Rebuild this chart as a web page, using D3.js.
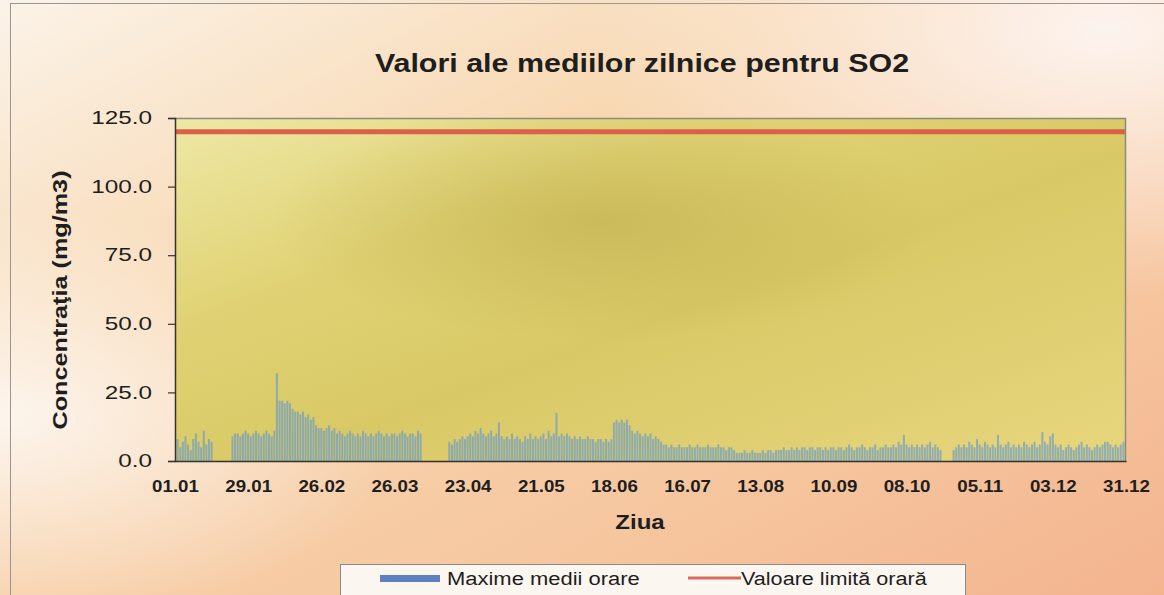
<!DOCTYPE html>
<html>
<head>
<meta charset="utf-8">
<script src="https://cdn.jsdelivr.net/npm/d3@7"></script>
<style>
  body { margin: 0; padding: 0; background: #fff; }
  svg text { font-family: "Liberation Sans", Arial, sans-serif; fill: #1e1e1e; }
</style>
</head>
<body>
<script>
'use strict';

// tick labels on the day axis (every 28 days)
const tickDays = [0, 28, 56, 84, 112, 140, 168, 196, 224, 252, 280, 308, 336, 364];
const tickLabels = ["01.01", "29.01", "26.02", "26.03", "23.04", "21.05", "18.06",
                    "16.07", "13.08", "10.09", "08.10", "05.11", "03.12", "31.12"];
const yTicks = [0, 25, 50, 75, 100, 125];

// daily max of hourly means, one value per day (null = no data)
const so2Daily = [
  6, 8, 5, 7, 9, 6, 4, 8, 10, 7, 5, 11, 6, 8, 7, null, null, null, null, null, null, null, 9, 10, 10, 9, 10, 11,
  10, 9, 10, 11, 10, 9, 10, 11, 10, 9, 11, 32, 22, 22, 21, 22, 21, 19, 18, 18, 17, 18, 16, 17, 15, 16, 13, 12,
  12, 11, 12, 13, 11, 12, 10, 11, 10, 9, 10, 11, 10, 9, 10, 9, 11, 10, 9, 10, 9, 10, 11, 10, 9, 10, 9, 10,
  10, 9, 10, 11, 10, 9, 10, 10, 9, 11, 10, null, null, null, null, null, null, null, null, null, null, 7, 6, 8, 7, 8, 9, 8,
  9, 10, 9, 11, 10, 12, 10, 9, 10, 11, 9, 10, 14, 9, 8, 9, 8, 10, 8, 9, 8, 7, 9, 8, 10, 8, 9, 8,
  9, 10, 8, 11, 9, 10, 17.5, 9, 10, 9, 10, 9, 8, 9, 8, 9, 8, 8, 9, 8, 8, 7, 8, 8, 7, 8, 7, 8,
  14, 15, 14, 15, 14, 15, 13, 11, 10, 11, 10, 9, 10, 9, 10, 8, 9, 8, 7, 6, 6, 5, 6, 5, 5, 6, 5, 5,
  5, 6, 5, 5, 6, 5, 5, 5, 6, 5, 5, 5, 6, 5, 5, 4, 5, 5, 4, 3, 3, 3, 4, 3, 3, 4, 3, 3,
  3, 4, 3, 4, 4, 3, 4, 4, 4, 5, 4, 4, 5, 4, 5, 4, 5, 5, 4, 5, 5, 4, 5, 5, 4, 5, 4, 5,
  5, 4, 5, 5, 4, 5, 6, 5, 4, 5, 5, 6, 5, 4, 5, 5, 6, 4, 5, 5, 6, 5, 5, 6, 5, 7, 6, 9.5,
  6, 5, 6, 5, 6, 5, 6, 5, 6, 7, 5, 6, 5, 4, null, null, null, null, 4, 5, 6, 5, 6, 5, 7, 6, 5, 8,
  6, 5, 7, 6, 5, 6, 5, 9.5, 6, 5, 6, 7, 5, 6, 5, 6, 5, 7, 6, 5, 6, 7, 5, 6, 10.5, 7, 6, 9,
  10, 6, 5, 6, 4, 5, 6, 5, 4, 5, 6, 7, 5, 6, 5, 4, 5, 6, 5, 6, 7, 7, 6, 5, 6, 5, 6, 7, 6
];

const limitValue = 120; // valoare limita orara

const seriesNames = ["Maxime medii orare", "Valoare limită orară"];

(function() {
  const width = 1164, height = 595;
  const left = 175, right = 1126, top = 118, bottom = 461;

  let svg = d3.select('body').append('svg')
    .attr('width', width)
    .attr('height', height);

  // the scanned chart is stretched sideways, widen text the same way
  function stretch(sel, k) {
    sel.each(function() {
      let len = this.getComputedTextLength();
      d3.select(this)
        .attr('textLength', len * k)
        .attr('lengthAdjust', 'spacingAndGlyphs');
    });
  }

  let defs = svg.append('defs');

  // page background gradients
  let bgLin = defs.append('linearGradient').attr('id', 'bgLin')
    .attr('x1', 0).attr('y1', 0).attr('x2', 1).attr('y2', 1);
  bgLin.append('stop').attr('offset', '0%').attr('stop-color', '#fbf3e8');
  bgLin.append('stop').attr('offset', '35%').attr('stop-color', '#f8d8b2');
  bgLin.append('stop').attr('offset', '70%').attr('stop-color', '#f6c7a0');
  bgLin.append('stop').attr('offset', '100%').attr('stop-color', '#f3b48e');

  let bgWhite = defs.append('radialGradient').attr('id', 'bgWhite')
    .attr('cx', 0.95).attr('cy', 0.05).attr('r', 0.45);
  bgWhite.append('stop').attr('offset', '0%').attr('stop-color', '#fdf5f2').attr('stop-opacity', 0.95);
  bgWhite.append('stop').attr('offset', '100%').attr('stop-color', '#fdf5f2').attr('stop-opacity', 0);

  let bgWhite2 = defs.append('radialGradient').attr('id', 'bgWhite2')
    .attr('cx', 0.0).attr('cy', 0.7).attr('r', 0.35);
  bgWhite2.append('stop').attr('offset', '0%').attr('stop-color', '#fdf8f4').attr('stop-opacity', 0.9);
  bgWhite2.append('stop').attr('offset', '100%').attr('stop-color', '#fdf8f4').attr('stop-opacity', 0);

  // plot area gradients
  let plotLin = defs.append('linearGradient').attr('id', 'plotLin')
    .attr('x1', 0).attr('y1', 0).attr('x2', 1).attr('y2', 1);
  plotLin.append('stop').attr('offset', '0%').attr('stop-color', '#eee8a6');
  plotLin.append('stop').attr('offset', '30%').attr('stop-color', '#e0d274');
  plotLin.append('stop').attr('offset', '55%').attr('stop-color', '#d9c966');
  plotLin.append('stop').attr('offset', '100%').attr('stop-color', '#e8d67e');

  let plotDark = defs.append('radialGradient').attr('id', 'plotDark')
    .attr('cx', 0.45).attr('cy', 0.3).attr('r', 0.35);
  plotDark.append('stop').attr('offset', '0%').attr('stop-color', '#b8a644').attr('stop-opacity', 0.5);
  plotDark.append('stop').attr('offset', '100%').attr('stop-color', '#b8a644').attr('stop-opacity', 0);

  // background
  svg.append('rect').attr('width', width).attr('height', height).attr('fill', 'url(#bgLin)');
  svg.append('rect').attr('width', width).attr('height', height).attr('fill', 'url(#bgWhite)');
  svg.append('rect').attr('width', width).attr('height', height).attr('fill', 'url(#bgWhite2)');

  // outer frame
  svg.append('rect')
    .attr('x', 10.5).attr('y', 3.5)
    .attr('width', 1160).attr('height', 600)
    .attr('fill', 'none')
    .attr('stroke', '#9a9590')
    .attr('stroke-width', 1);

  // plot area
  svg.append('rect')
    .attr('x', left).attr('y', top)
    .attr('width', right - left).attr('height', bottom - top)
    .attr('fill', 'url(#plotLin)');
  svg.append('rect')
    .attr('x', left).attr('y', top)
    .attr('width', right - left).attr('height', bottom - top)
    .attr('fill', 'url(#plotDark)');

  // scales
  let xScale = d3.scaleLinear().domain([0, 364]).range([left, right]);
  let yScale = d3.scaleLinear().domain([0, 125]).range([bottom, top]);
  let barW = (xScale(1) - xScale(0)) * 0.78;

  let days = so2Daily.map((v, i) => ({ day: i, value: v })).filter(d => d.value != null);

  // clip bars to plot area
  defs.append('clipPath').attr('id', 'plotClip')
    .append('rect')
    .attr('x', left).attr('y', top)
    .attr('width', right - left).attr('height', bottom - top);

  svg.append('g')
    .attr('clip-path', 'url(#plotClip)')
    .selectAll('rect.bar')
    .data(days)
    .enter()
    .append('rect')
      .attr('class', 'bar')
      .attr('x', d => xScale(d.day) - barW / 2)
      .attr('y', d => yScale(d.value))
      .attr('width', barW)
      .attr('height', d => bottom - yScale(d.value))
      .attr('fill', '#6a9cc6')
      .attr('opacity', 0.68);

  // limit line
  svg.append('line')
    .attr('x1', left).attr('x2', right)
    .attr('y1', yScale(limitValue)).attr('y2', yScale(limitValue))
    .attr('stroke', '#d9614a')
    .attr('stroke-width', 5);

  // plot border (top / right)
  svg.append('path')
    .attr('d', `M${left},${top + 0.5}H${right - 0.5}V${bottom}`)
    .attr('fill', 'none')
    .attr('stroke', '#8c8c7c')
    .attr('stroke-width', 1.5);

  // y axis
  let yAxis = d3.axisLeft(yScale)
    .tickValues(yTicks)
    .tickSize(7)
    .tickPadding(16)
    .tickFormat(d3.format('.1f'));
  let gy = svg.append('g')
    .attr('transform', `translate(${left}, 0)`)
    .call(yAxis);
  gy.select('.domain').attr('stroke', '#333').attr('stroke-width', 1.5);
  gy.selectAll('.tick line').attr('stroke', '#333').attr('stroke-width', 1.2);
  gy.selectAll('.tick text')
    .style('font-size', '18px')
    .style('font-family', '"Liberation Sans", Arial, sans-serif')
    .attr('fill', '#2a2a2a')
    .call(stretch, 1.35);

  // x axis
  let xAxis = d3.axisBottom(xScale)
    .tickValues(tickDays)
    .tickSize(0)
    .tickPadding(19)
    .tickFormat((d, i) => tickLabels[i]);
  let gx = svg.append('g')
    .attr('transform', `translate(0, ${bottom})`)
    .call(xAxis);
  gx.select('.domain').attr('stroke', '#333').attr('stroke-width', 1.5);
  gx.selectAll('.tick text')
    .style('font-size', '17px')
    .style('font-weight', 'bold')
    .style('font-family', '"Liberation Sans", Arial, sans-serif')
    .attr('fill', '#222')
    .call(stretch, 1.1);

  // title
  svg.append('text')
    .attr('x', 642)
    .attr('y', 72)
    .attr('text-anchor', 'middle')
    .style('font-size', '26px')
    .style('font-weight', 'bold')
    .text('Valori ale mediilor zilnice pentru SO2')
    .call(stretch, 1.17);

  // axis titles
  svg.append('text')
    .attr('transform', 'translate(67, 300) rotate(-90)')
    .attr('text-anchor', 'middle')
    .style('font-size', '21px')
    .style('font-weight', 'bold')
    .text('Concentraţia (mg/m3)')
    .call(stretch, 1.2);

  svg.append('text')
    .attr('x', 640)
    .attr('y', 529)
    .attr('text-anchor', 'middle')
    .style('font-size', '20px')
    .style('font-weight', 'bold')
    .text('Ziua')
    .call(stretch, 1.2);

  // legend
  svg.append('rect')
    .attr('x', 340.5).attr('y', 564.5)
    .attr('width', 625).attr('height', 50)
    .attr('fill', '#fcf6f1')
    .attr('stroke', '#8a8a8a')
    .attr('stroke-width', 1);

  svg.append('rect')
    .attr('x', 380).attr('y', 575)
    .attr('width', 60).attr('height', 7)
    .attr('fill', '#5f80bf');
  svg.append('text')
    .attr('x', 447).attr('y', 585)
    .style('font-size', '18px')
    .text(seriesNames[0])
    .call(stretch, 1.22);

  svg.append('line')
    .attr('x1', 688).attr('x2', 741)
    .attr('y1', 578).attr('y2', 578)
    .attr('stroke', '#d66a62')
    .attr('stroke-width', 3);
  svg.append('text')
    .attr('x', 741).attr('y', 585)
    .style('font-size', '18px')
    .text(seriesNames[1])
    .call(stretch, 1.2);
})();
</script>
</body>
</html>
